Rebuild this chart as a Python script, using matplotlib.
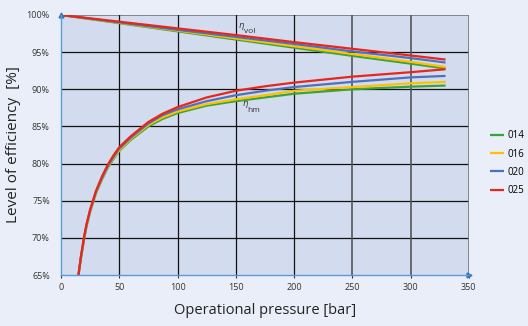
import matplotlib.pyplot as plt
import numpy as np

# operational pressure [bar]
p_vol = [0, 50, 100, 150, 200, 250, 300, 330]
p_hm = [15, 17, 20, 22, 25, 30, 35, 40, 45, 50, 60, 75, 87, 100, 125, 150, 175, 200, 250, 300, 330]

series = ["014", "016", "020", "025"]
colors = ["#3aa33a", "#ffc000", "#4a72c0", "#e8261c"]

# volumetric efficiency [%]
vol_014 = [100, 98.9, 97.8, 96.7, 95.6, 94.5, 93.45, 92.8]
vol_016 = [100, 98.95, 97.9, 96.85, 95.8, 94.75, 93.7, 93.0]
vol_020 = [100, 99.0, 98.0, 97.05, 96.1, 95.1, 94.2, 93.6]
vol_025 = [100, 99.1, 98.2, 97.3, 96.35, 95.45, 94.55, 94.0]

# hydraulic-mechanical efficiency [%]
hm_014 = [65, 67.1, 70.0, 71.6, 73.5, 76.0, 77.8, 79.4, 80.6, 81.7, 83.2, 85.0, 86.0, 86.8, 87.8, 88.4, 88.9, 89.4, 90.0, 90.35, 90.5]
hm_016 = [65, 67.2, 70.1, 71.7, 73.6, 76.1, 77.9, 79.5, 80.75, 81.8, 83.35, 85.2, 86.2, 87.0, 88.0, 88.65, 89.2, 89.8, 90.3, 90.8, 91.0]
hm_020 = [65, 67.3, 70.2, 71.8, 73.7, 76.2, 78.0, 79.6, 80.9, 82.0, 83.5, 85.4, 86.5, 87.3, 88.4, 89.2, 89.8, 90.3, 91.0, 91.6, 91.8]
hm_025 = [65, 67.4, 70.3, 71.9, 73.8, 76.3, 78.2, 79.8, 81.1, 82.2, 83.7, 85.6, 86.7, 87.6, 88.9, 89.8, 90.4, 90.9, 91.7, 92.3, 92.7]

vol = [vol_014, vol_016, vol_020, vol_025]
hm = [hm_014, hm_016, hm_020, hm_025]

plt.rcParams["font.family"] = ["Open Sans", "DejaVu Sans"]

fig = plt.figure(figsize=(5.28, 3.26), dpi=100)
fig.patch.set_facecolor("#e9eef8")
ax = fig.add_axes([0.1155, 0.1564, 0.7725, 0.7976])
ax.set_facecolor("#d3dcef")

for name, c, v, h in zip(series, colors, vol, hm):
  ax.plot(p_vol, v, color=c, lw=1.6, label=name, solid_capstyle="butt")
  ax.plot(p_hm, h, color=c, lw=1.6, solid_capstyle="butt", solid_joinstyle="round")

ax.set_xlim(0, 350)
ax.set_ylim(65, 100)
ax.set_xticks(np.arange(0, 351, 50))
ax.set_yticks(np.arange(65, 101, 5))
ax.set_yticklabels([f"{v}%" for v in range(65, 101, 5)])

# grid
for y in range(70, 100, 5):
  ax.axhline(y, color="#111111", lw=0.9, zorder=0.5)
ax.axhline(100, color="#777777", lw=1.2, zorder=0.5)
for x in [50, 100, 150, 200]:
  ax.axvline(x, color="#111111", lw=0.9, zorder=0.5)
for x in [250, 300]:
  ax.axvline(x, color="#555555", lw=1.2, zorder=0.5)
ax.axvline(350, color="#777777", lw=1.2, zorder=0.5)

for s in ["top", "right"]:
  ax.spines[s].set_visible(False)
ax.spines["left"].set_color("#5b9bd5")
ax.spines["bottom"].set_color("#5b9bd5")
ax.spines["left"].set_linewidth(1.0)
ax.spines["bottom"].set_linewidth(1.0)
ax.plot([0], [1], marker="^", color="#2f75c0", ms=3.5, transform=ax.transAxes, clip_on=False)
ax.plot([1], [0], marker=">", color="#2f75c0", ms=3.5, transform=ax.transAxes, clip_on=False)

ax.tick_params(axis="x", length=2, width=0.8, color="#333333", labelsize=6.5, pad=4, labelcolor="#333333")
ax.tick_params(axis="y", length=0, labelsize=6.5, pad=8, labelcolor="#333333")

ax.text(152, 98.3, r"$\eta$", fontsize=6, color="#333333")
ax.text(157, 97.6, "vol", fontsize=6, color="#333333")
ax.text(155, 87.7, r"$\eta$", fontsize=6, color="#333333")
ax.text(160, 86.9, "hm", fontsize=6, color="#333333")

ax.set_xlabel("Operational pressure [bar]", fontsize=10.5, color="#222222", labelpad=8)
ax.set_ylabel("Level of efficiency  [%]", fontsize=11, color="#222222", labelpad=4)

ax.legend(loc="center left", bbox_to_anchor=(1.03, 0.43), frameon=False, fontsize=7,
          handlelength=1.5, handletextpad=0.3, labelspacing=0.75)

fig.savefig("out.png", dpi=100, facecolor=fig.get_facecolor())
